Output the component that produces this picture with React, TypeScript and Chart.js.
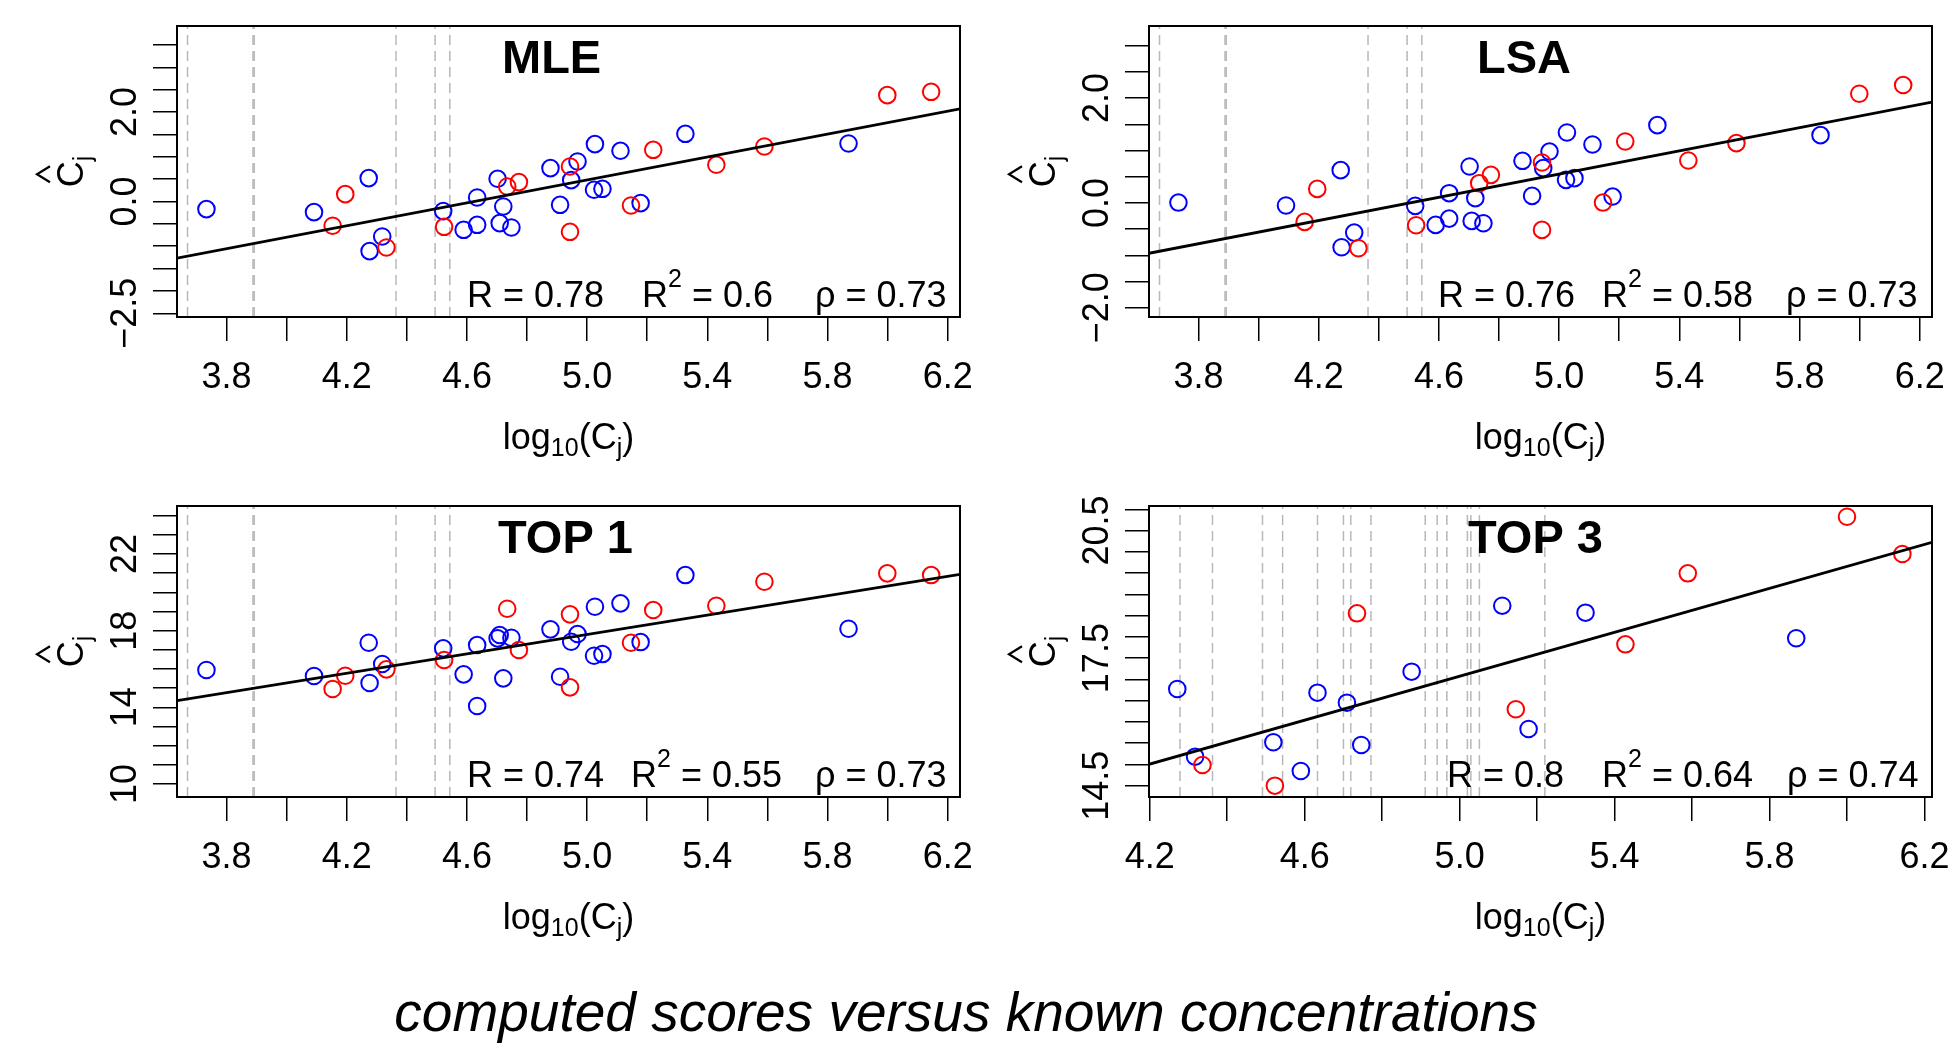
import React, { useEffect, useRef } from 'react';
import { Chart, registerables } from 'chart.js';
Chart.register(...registerables);

const FONT = '"Liberation Sans", Arial, Helvetica, sans-serif';
const BLUE = '#0000FF';
const RED = '#FF0000';
const DASH_COLOR = '#B8B8B8';

// ---------- data: known log10 concentrations (shared by MLE, LSA, TOP 1) ----------
const blueX = [3.733, 4.091, 4.273, 4.318, 4.276, 4.521, 4.589, 4.634, 4.634, 4.702, 4.721, 4.709, 4.748, 4.878, 4.910, 4.947, 4.968, 5.026, 5.023, 5.051, 5.111, 5.178, 5.327, 5.870];
const redX = [4.195, 4.153, 4.332, 4.524, 4.734, 4.773, 4.943, 4.943, 5.146, 5.220, 5.430, 5.590, 5.999, 6.145];

// MLE scores
const mleBlueY = [-0.17, -0.237, 0.523, -0.783, -1.109, -0.215, -0.633, 0.089, -0.521, 0.508, -0.112, -0.483, -0.581, 0.747, -0.074, 0.479, 0.894, 1.284, 0.262, 0.284, 1.134, -0.036, 1.514, 1.297];
const mleRedY = [0.165, -0.543, -1.029, -0.566, 0.335, 0.434, 0.783, -0.678, -0.089, 1.156, 0.821, 1.23, 2.379, 2.453];
const mleFitX = [3.635, 6.241];
const mleFitY = [-1.266, 2.073];

// LSA scores
const lsaBlueY = [0.006, -0.05, 0.625, -0.567, -0.847, -0.057, -0.42, 0.185, -0.3, 0.694, 0.09, -0.344, -0.389, 0.803, 0.134, 0.663, 0.98, 1.344, 0.44, 0.472, 1.115, 0.121, 1.484, 1.293];
const lsaRedY = [0.267, -0.363, -0.866, -0.427, 0.376, 0.535, 0.771, -0.516, 0.006, 1.172, 0.809, 1.141, 2.083, 2.249];
const lsaFitX = [3.635, 6.241];
const lsaFitY = [-0.962, 1.924];

// TOP 1 scores
const top1BlueY = [15.947, 15.634, 17.371, 16.26, 15.269, 17.079, 15.722, 17.251, 14.069, 17.6, 15.514, 17.773, 17.632, 18.07, 15.597, 17.423, 17.825, 19.249, 16.693, 16.781, 19.426, 17.407, 20.902, 18.101];
const top1RedY = [15.65, 14.956, 15.983, 16.468, 19.145, 16.99, 18.852, 15.044, 17.371, 19.077, 19.301, 20.553, 20.991, 20.902];
const top1FitX = [3.635, 6.241];
const top1FitY = [14.345, 20.939];

// TOP 3 (subset of compounds)
const top3BlueX = [4.271, 4.317, 4.519, 4.590, 4.633, 4.709, 4.746, 4.876, 5.110, 5.178, 5.325, 5.869];
const top3BlueY = [16.774, 15.182, 15.521, 14.846, 16.687, 16.452, 15.457, 17.181, 18.733, 15.833, 18.569, 17.967];
const top3RedX = [4.336, 4.523, 4.735, 5.145, 5.428, 5.589, 6.000, 6.143];
const top3RedY = [14.987, 14.5, 18.554, 16.297, 17.825, 19.495, 20.826, 19.949];
const top3FitX = [4.198, 6.2195];
const top3FitY = [15.003, 20.224];

// compounds without an estimate (dashed verticals)
const missingX = [3.670, 3.888, 3.892, 4.364, 4.494, 4.543];
const top3MissingX = [4.278, 4.362, 4.491, 4.543, 4.633, 4.700, 4.719, 4.771, 4.911, 4.942, 4.967, 5.020, 5.029, 5.051, 5.220];

// axes
const xTicksMain = [3.8, 4.0, 4.2, 4.4, 4.6, 4.8, 5.0, 5.2, 5.4, 5.6, 5.8, 6.0, 6.2];
const xLabelsMain = [3.8, 4.2, 4.6, 5.0, 5.4, 5.8, 6.2];
const xTicksTop3 = [4.2, 4.4, 4.6, 4.8, 5.0, 5.2, 5.4, 5.6, 5.8, 6.0, 6.2];
const xLabelsTop3 = [4.2, 4.6, 5.0, 5.4, 5.8, 6.2];
const mleYTicks = [-2.5, -2.0, -1.5, -1.0, -0.5, 0, 0.5, 1.0, 1.5, 2.0, 2.5, 3.0, 3.5];
const mleYLabels = [-2.5, 0, 2.0];
const lsaYTicks = [-2.0, -1.5, -1.0, -0.5, 0, 0.5, 1.0, 1.5, 2.0, 2.5, 3.0];
const lsaYLabels = [-2.0, 0, 2.0];
const top1YTicks = [10, 11, 12, 13, 14, 15, 16, 17, 18, 19, 20, 21, 22, 23, 24];
const top1YLabels = [10, 14, 18, 22];
const top3YTicks = [14.5, 15.0, 15.5, 16.0, 16.5, 17.0, 17.5, 18.0, 18.5, 19.0, 19.5, 20.0, 20.5, 21.0];
const top3YLabels = [14.5, 17.5, 20.5];

const CANVAS_W = 975;
const CANVAS_H = 480;
const PLOT_TOP = 26;
const PLOT_BOTTOM = 317;

type Run = { t: string; s?: number; dy?: number; bold?: boolean };

function drawRuns(ctx: CanvasRenderingContext2D, x: number, y: number, runs: Run[], align: 'left' | 'center', base = 36) {
  ctx.textAlign = 'left';
  const widths = runs.map((r) => {
    ctx.font = `${r.bold ? 'bold ' : ''}${r.s ?? base}px ${FONT}`;
    return ctx.measureText(r.t).width;
  });
  const total = widths.reduce((a, b) => a + b, 0);
  let cx = align === 'center' ? x - total / 2 : x;
  runs.forEach((r, i) => {
    ctx.font = `${r.bold ? 'bold ' : ''}${r.s ?? base}px ${FONT}`;
    ctx.fillText(r.t, cx, y + (r.dy ?? 0));
    cx += widths[i];
  });
}

const decorPlugin = {
  id: 'decor',
  afterDraw(chart: any, _args: any, o: any) {
    const ctx: CanvasRenderingContext2D = chart.ctx;
    const ca = chart.chartArea;
    const xs = chart.scales.x;
    const ys = chart.scales.y;
    ctx.save();
    ctx.strokeStyle = '#000';
    ctx.lineWidth = 2;
    ctx.strokeRect(ca.left, ca.top, ca.right - ca.left, ca.bottom - ca.top);

    ctx.fillStyle = '#000';
    ctx.textBaseline = 'alphabetic';
    ctx.font = `36px ${FONT}`;
    ctx.textAlign = 'center';
    for (const v of o.xLabels) ctx.fillText(v.toFixed(1), xs.getPixelForValue(v), ca.bottom + 71);
    for (const v of o.yLabels) {
      const s = v.toFixed(o.yDigits).replace('-', '\u2212');
      ctx.save();
      ctx.translate(ca.left - 41, ys.getPixelForValue(v));
      ctx.rotate(-Math.PI / 2);
      ctx.textAlign = 'center';
      ctx.fillText(s, 0, 0);
      ctx.restore();
    }

    // x axis title  log10(Cj)
    drawRuns(ctx, (ca.left + ca.right) / 2, ca.bottom + 132, [
      { t: 'log' }, { t: '10', s: 25, dy: 7 }, { t: '(C' }, { t: 'j', s: 25, dy: 7 }, { t: ')' },
    ], 'center');

    // y axis title  C-hat sub j
    ctx.save();
    ctx.translate(ca.left - 94, (ca.top + ca.bottom) / 2);
    ctx.rotate(-Math.PI / 2);
    ctx.font = `36px ${FONT}`;
    const wC = ctx.measureText('C').width;
    ctx.font = `25px ${FONT}`;
    const wj = ctx.measureText('j').width;
    const x0 = -(wC + wj) / 2;
    ctx.textAlign = 'left';
    ctx.font = `36px ${FONT}`;
    ctx.fillText('C', x0, 0);
    ctx.font = `25px ${FONT}`;
    ctx.fillText('j', x0 + wC, 8);
    const hc = x0 + wC / 2;
    ctx.beginPath();
    ctx.moveTo(hc - 8, -33);
    ctx.lineTo(hc, -46);
    ctx.lineTo(hc + 8, -33);
    ctx.lineWidth = 2.2;
    ctx.stroke();
    ctx.restore();

    // panel title
    ctx.font = `bold 47px ${FONT}`;
    ctx.textAlign = 'left';
    ctx.fillText(o.title, ca.left + o.titleX, ca.top + 47);

    // statistics
    const by = ca.bottom - 10;
    drawRuns(ctx, ca.left + o.statsX[0], by, [{ t: `R = ${o.r}` }], 'left');
    drawRuns(ctx, ca.left + o.statsX[1], by, [{ t: 'R' }, { t: '2', s: 25, dy: -20 }, { t: ` = ${o.r2}` }], 'left');
    drawRuns(ctx, ca.left + o.statsX[2], by, [{ t: `\u03C1 = ${o.rho}` }], 'left');
    ctx.restore();
  },
};

type PanelCfg = {
  id: string;
  pageLeft: number;
  pageTop: number;
  plotLeft: number;
  plotRight: number;
  xMin: number; xMax: number; yMin: number; yMax: number;
  xTicks: number[]; xLabels: number[];
  yTicks: number[]; yLabels: number[]; yDigits: number;
  bx: number[]; by: number[]; rx: number[]; ry: number[];
  fx: number[]; fy: number[]; dash: number[];
  title: string; titleX: number;
  r: string; r2: string; rho: string; statsX: number[];
};

const panels: PanelCfg[] = [
  {
    id: 'mle', pageLeft: 0, pageTop: 0, plotLeft: 177, plotRight: 960,
    xMin: 3.635, xMax: 6.241, yMin: -2.583, yMax: 3.925,
    xTicks: xTicksMain, xLabels: xLabelsMain, yTicks: mleYTicks, yLabels: mleYLabels, yDigits: 1,
    bx: blueX, by: mleBlueY, rx: redX, ry: mleRedY, fx: mleFitX, fy: mleFitY, dash: missingX,
    title: 'MLE', titleX: 325, r: '0.78', r2: '0.6', rho: '0.73', statsX: [290, 465, 638],
  },
  {
    id: 'lsa', pageLeft: 975, pageTop: 0, plotLeft: 174, plotRight: 957,
    xMin: 3.635, xMax: 6.241, yMin: -2.178, yMax: 3.376,
    xTicks: xTicksMain, xLabels: xLabelsMain, yTicks: lsaYTicks, yLabels: lsaYLabels, yDigits: 1,
    bx: blueX, by: lsaBlueY, rx: redX, ry: lsaRedY, fx: lsaFitX, fy: lsaFitY, dash: missingX,
    title: 'LSA', titleX: 328, r: '0.76', r2: '0.58', rho: '0.73', statsX: [289, 453, 637],
  },
  {
    id: 'top1', pageLeft: 0, pageTop: 480, plotLeft: 177, plotRight: 960,
    xMin: 3.635, xMax: 6.241, yMin: 9.322, yMax: 24.506,
    xTicks: xTicksMain, xLabels: xLabelsMain, yTicks: top1YTicks, yLabels: top1YLabels, yDigits: 0,
    bx: blueX, by: top1BlueY, rx: redX, ry: top1RedY, fx: top1FitX, fy: top1FitY, dash: missingX,
    title: 'TOP 1', titleX: 321, r: '0.74', r2: '0.55', rho: '0.73', statsX: [290, 454, 638],
  },
  {
    id: 'top3', pageLeft: 975, pageTop: 480, plotLeft: 174, plotRight: 957,
    xMin: 4.198, xMax: 6.2195, yMin: 14.234, yMax: 21.078,
    xTicks: xTicksTop3, xLabels: xLabelsTop3, yTicks: top3YTicks, yLabels: top3YLabels, yDigits: 1,
    bx: top3BlueX, by: top3BlueY, rx: top3RedX, ry: top3RedY, fx: top3FitX, fy: top3FitY, dash: top3MissingX,
    title: 'TOP 3', titleX: 319, r: '0.8', r2: '0.64', rho: '0.74', statsX: [298, 453, 638],
  },
];

function Panel({ p }: { p: PanelCfg }) {
  const ref = useRef<HTMLCanvasElement>(null);
  useEffect(() => {
    if (!ref.current) return;
    const datasets: any[] = [
      {
        data: p.fx.map((x, i) => ({ x, y: p.fy[i] })),
        showLine: true, borderColor: '#000', borderWidth: 2.8, pointRadius: 0, fill: false,
      },
      {
        data: p.rx.map((x, i) => ({ x, y: p.ry[i] })),
        showLine: false, pointStyle: 'circle', pointRadius: 8.3, pointBorderWidth: 2,
        borderColor: RED, pointBorderColor: RED, backgroundColor: 'rgba(0,0,0,0)', pointBackgroundColor: 'rgba(0,0,0,0)',
      },
      {
        data: p.bx.map((x, i) => ({ x, y: p.by[i] })),
        showLine: false, pointStyle: 'circle', pointRadius: 8.3, pointBorderWidth: 2,
        borderColor: BLUE, pointBorderColor: BLUE, backgroundColor: 'rgba(0,0,0,0)', pointBackgroundColor: 'rgba(0,0,0,0)',
      },
      ...p.dash.map((v) => ({
        data: [{ x: v, y: p.yMin }, { x: v, y: p.yMax }],
        showLine: true, borderColor: DASH_COLOR, borderWidth: 1.5, borderDash: [10, 6], pointRadius: 0, fill: false,
      })),
    ];
    const chart = new Chart(ref.current, {
      type: 'scatter',
      data: { datasets },
      options: {
        animation: false,
        responsive: false,
        devicePixelRatio: 1,
        events: [],
        layout: { padding: { left: 0, top: PLOT_TOP, right: CANVAS_W - p.plotRight, bottom: 0 } },
        plugins: {
          legend: { display: false },
          tooltip: { enabled: false },
          decor: {
            xLabels: p.xLabels, yLabels: p.yLabels, yDigits: p.yDigits,
            title: p.title, titleX: p.titleX, r: p.r, r2: p.r2, rho: p.rho, statsX: p.statsX,
          },
        } as any,
        scales: {
          x: {
            type: 'linear', min: p.xMin, max: p.xMax,
            afterBuildTicks: (s: any) => { s.ticks = p.xTicks.map((v) => ({ value: v })); },
            afterFit: (s: any) => { s.height = CANVAS_H - PLOT_BOTTOM; },
            ticks: { display: false },
            grid: { display: true, drawOnChartArea: false, drawTicks: true, tickLength: 24, color: '#000', lineWidth: 1.5 },
            border: { display: false },
          },
          y: {
            type: 'linear', position: 'left', min: p.yMin, max: p.yMax,
            afterBuildTicks: (s: any) => { s.ticks = p.yTicks.map((v) => ({ value: v })); },
            afterFit: (s: any) => { s.width = p.plotLeft; },
            ticks: { display: false },
            grid: { display: true, drawOnChartArea: false, drawTicks: true, tickLength: 24, color: '#000', lineWidth: 1.5 },
            border: { display: false },
          },
        } as any,
      },
      plugins: [decorPlugin as any],
    });
    return () => chart.destroy();
  }, []);
  return (
    <canvas
      ref={ref}
      width={CANVAS_W}
      height={CANVAS_H}
      style={{ position: 'absolute', left: p.pageLeft, top: p.pageTop, width: CANVAS_W, height: CANVAS_H }}
    />
  );
}

export default function App() {
  return (
    <div style={{ position: 'fixed', left: 0, top: 0, width: 1950, height: 1044, overflow: 'hidden', background: '#fff' }}>
      {panels.map((p) => <Panel key={p.id} p={p} />)}
      <div
        style={{
          position: 'absolute', left: 0, top: 985, width: 1932, textAlign: 'center',
          fontFamily: FONT, fontStyle: 'italic', fontSize: 55, lineHeight: '55px', color: '#000', whiteSpace: 'nowrap',
        }}
      >
        computed scores versus known concentrations
      </div>
    </div>
  );
}
